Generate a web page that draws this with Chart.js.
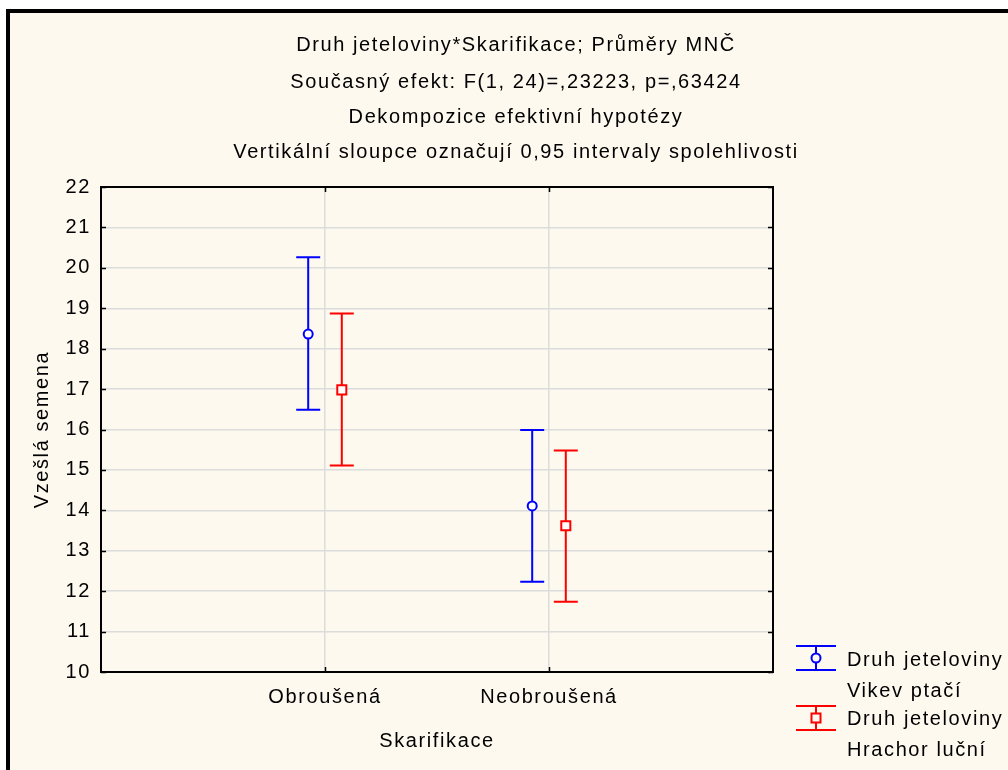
<!DOCTYPE html>
<html>
<head>
<meta charset="utf-8">
<script src="https://cdn.jsdelivr.net/npm/chart.js@4.4.0/dist/chart.umd.min.js"></script>
<style>
  html, body { margin: 0; padding: 0; background: #fff; }
  #frame {
    position: absolute; left: 6px; top: 9px; width: 1040px; height: 800px;
    background: #fdf9ef; border: 4px solid #000;
  }
  #wrap { position: absolute; left: 0; top: 0; width: 1008px; height: 770px; }
</style>
</head>
<body>
<div id="frame"></div>
<div id="wrap"><canvas id="c" width="1008" height="770"></canvas></div>
<script>
// Data
const categories = ['Obroušená', 'Neobroušená'];
const seriesNames = [['Druh jeteloviny', 'Vikev ptačí'], ['Druh jeteloviny', 'Hrachor luční']];
const vikevMean = [18.36, 14.11];
const vikevLow = [16.49, 12.23];
const vikevHigh = [20.26, 15.99];
const hrachorMean = [16.98, 13.62];
const hrachorLow = [15.11, 11.74];
const hrachorHigh = [18.87, 15.48];
const titleLines = [
    'Druh jeteloviny*Skarifikace; Průměry MNČ',
    'Současný efekt: F(1, 24)=,23223, p=,63424',
    'Dekompozice efektivní hypotézy',
    'Vertikální sloupce označují 0,95 intervaly spolehlivosti'
];
const yMin = 10, yMax = 22;

const FONT = "'Liberation Sans', Arial, sans-serif";
const FSIZE = 20;
const SPACING = '1.6px';

// body points, offset left/right from category position
const makePoints = (mean, low, high, shift) =>
    mean.map((m, i) => ({ x: i + 1 + shift, y: m, lo: low[i], hi: high[i] }));

// error bars drawn through the scales
const errorBars = {
    id: 'errorBars',
    beforeDatasetsDraw(chart) {
        const { ctx, scales: { x, y } } = chart;
        chart.data.datasets.forEach((ds) => {
            ctx.save();
            ctx.strokeStyle = ds.borderColor;
            ctx.lineWidth = 2;
            ds.data.forEach((p) => {
                const px = x.getPixelForValue(p.x);
                const top = y.getPixelForValue(p.hi);
                const bot = y.getPixelForValue(p.lo);
                ctx.beginPath();
                ctx.moveTo(px, top); ctx.lineTo(px, bot);
                ctx.moveTo(px - 12, top); ctx.lineTo(px + 12, top);
                ctx.moveTo(px - 12, bot); ctx.lineTo(px + 12, bot);
                ctx.stroke();
            });
            ctx.restore();
        });
    }
};

// frame, inward ticks, titles and legend
const decor = {
    id: 'decor',
    beforeLayout(chart) { chart.ctx.letterSpacing = SPACING; },
    beforeDraw(chart) { chart.ctx.letterSpacing = SPACING; },
    afterDraw(chart) {
        const { ctx, chartArea: a, scales: { x, y } } = chart;
        ctx.save();
        ctx.letterSpacing = SPACING;
        ctx.strokeStyle = '#000';
        ctx.lineWidth = 2;
        ctx.strokeRect(a.left, a.top, a.right - a.left, a.bottom - a.top);
        ctx.beginPath();
        y.ticks.forEach((t) => {
            const py = Math.round(y.getPixelForValue(t.value)) + 0.5;
            ctx.moveTo(a.left, py); ctx.lineTo(a.left + 5, py);
            ctx.moveTo(a.right, py); ctx.lineTo(a.right - 5, py);
        });
        x.ticks.forEach((t) => {
            const px = Math.round(x.getPixelForValue(t.value)) + 0.5;
            ctx.moveTo(px, a.bottom); ctx.lineTo(px, a.bottom - 5);
            ctx.moveTo(px, a.top); ctx.lineTo(px, a.top + 5);
        });
        ctx.lineWidth = 1.5;
        ctx.stroke();

        ctx.fillStyle = '#000';
        ctx.font = FSIZE + 'px ' + FONT;
        ctx.textAlign = 'center';
        ctx.textBaseline = 'middle';
        const titleY = [45, 82, 117, 152];
        titleLines.forEach((s, i) => ctx.fillText(s, 516, titleY[i]));

        // legend
        const items = [
            { color: '#0000ff', style: 'circle', top: 646, text: 660 },
            { color: '#ff0000', style: 'rect', top: 706, text: 719 }
        ];
        items.forEach((it, i) => {
            ctx.strokeStyle = it.color;
            ctx.lineWidth = 2;
            const cx = 816, cy = it.top + 12;
            ctx.beginPath();
            ctx.moveTo(796, it.top); ctx.lineTo(836, it.top);
            ctx.moveTo(796, it.top + 24); ctx.lineTo(836, it.top + 24);
            ctx.moveTo(cx, it.top); ctx.lineTo(cx, it.top + 24);
            ctx.stroke();
            ctx.beginPath();
            if (it.style === 'circle') ctx.arc(cx, cy, 4.5, 0, Math.PI * 2);
            else ctx.rect(cx - 4.5, cy - 4.5, 9, 9);
            ctx.fillStyle = '#fdf9ef';
            ctx.fill();
            ctx.stroke();
            ctx.fillStyle = '#000';
            ctx.textAlign = 'left';
            ctx.fillText(seriesNames[i][0], 847, it.text);
            ctx.fillText(seriesNames[i][1], 847, it.text + 31);
        });
        ctx.restore();
    }
};

new Chart(document.getElementById('c'), {
    type: 'scatter',
    data: {
        datasets: [
            {
                label: seriesNames[0].join(' '),
                data: makePoints(vikevMean, vikevLow, vikevHigh, -0.075),
                borderColor: '#0000ff',
                backgroundColor: '#ffffff',
                pointStyle: 'circle',
                pointRadius: 4.5,
                pointBorderWidth: 2
            },
            {
                label: seriesNames[1].join(' '),
                data: makePoints(hrachorMean, hrachorLow, hrachorHigh, 0.075),
                borderColor: '#ff0000',
                backgroundColor: '#ffffff',
                pointStyle: 'rect',
                pointRadius: 6.4,
                pointBorderWidth: 2
            }
        ]
    },
    options: {
        responsive: false,
        animation: false,
        events: [],
        layout: { padding: { left: 0, right: 235, top: 187, bottom: 0 } },
        plugins: {
            legend: { display: false },
            tooltip: { enabled: false },
            title: { display: false }
        },
        scales: {
            x: {
                type: 'linear',
                min: 0,
                max: 3,
                afterBuildTicks: (s) => { s.ticks = categories.map((c, i) => ({ value: i + 1 })); },
                afterFit: (s) => { s.height = 98; },
                ticks: {
                    callback: (v) => categories[v - 1] || '',
                    color: '#000',
                    font: { family: FONT, size: FSIZE },
                    padding: 13,
                    maxRotation: 0
                },
                grid: { color: '#dcdcdc', lineWidth: 1.5, drawTicks: false },
                border: { display: false },
                title: {
                    display: true,
                    text: 'Skarifikace',
                    color: '#000',
                    font: { family: FONT, size: FSIZE },
                    padding: { top: 0, bottom: 17 }
                }
            },
            y: {
                min: yMin,
                max: yMax,
                afterFit: (s) => { s.width = 101; },
                ticks: {
                    stepSize: 1,
                    color: '#000',
                    font: { family: FONT, size: FSIZE },
                    padding: 10
                },
                grid: { color: '#dcdcdc', lineWidth: 1.5, drawTicks: false },
                border: { display: false },
                title: {
                    display: true,
                    text: 'Vzešlá semena',
                    color: '#000',
                    font: { family: FONT, size: FSIZE },
                    padding: { top: 30, bottom: 0 }
                }
            }
        }
    },
    plugins: [errorBars, decor]
});
</script>
</body>
</html>
